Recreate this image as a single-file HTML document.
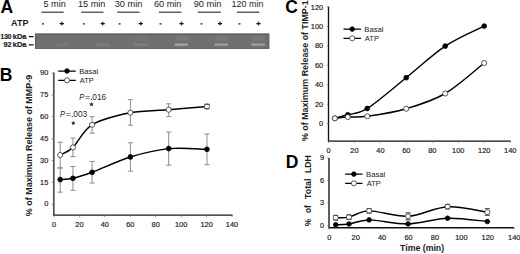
<!DOCTYPE html>
<html><head><meta charset="utf-8"><title>Figure</title>
<style>
html,body{margin:0;padding:0;background:#fff;width:520px;height:254px;overflow:hidden;}
svg{display:block;font-family:"Liberation Sans", sans-serif;}
</style></head>
<body>
<svg width="520" height="254" viewBox="0 0 520 254">
<rect width="520" height="254" fill="#fff"/>
<text x="0.45" y="12.95" font-size="17.50" text-anchor="start" font-weight="bold" font-style="normal" fill="#000" >A</text>
<text x="43.48" y="6.85" font-size="8.20" font-weight="normal" font-style="normal" fill="#1c1c1c" textLength="22.42" lengthAdjust="spacingAndGlyphs" xml:space="preserve">5 min</text>
<path d="M41.50,12.2H63.70" stroke="#2a2a2a" stroke-width="1.1"/>
<rect x="41.90" y="23.15" width="2.0" height="1.4" fill="#333"/>
<path d="M61.80,21.7V25.3M59.70,23.5H63.90" stroke="#111" stroke-width="1.25"/>
<text x="78.02" y="6.85" font-size="8.20" font-weight="normal" font-style="normal" fill="#1c1c1c" textLength="27.39" lengthAdjust="spacingAndGlyphs" xml:space="preserve">15 min</text>
<path d="M81.20,12.2H103.50" stroke="#2a2a2a" stroke-width="1.1"/>
<rect x="82.80" y="23.15" width="2.0" height="1.4" fill="#333"/>
<path d="M102.70,21.7V25.3M100.60,23.5H104.80" stroke="#111" stroke-width="1.25"/>
<text x="114.75" y="6.85" font-size="8.20" font-weight="normal" font-style="normal" fill="#1c1c1c" textLength="27.66" lengthAdjust="spacingAndGlyphs" xml:space="preserve">30 min</text>
<path d="M117.30,12.2H139.60" stroke="#2a2a2a" stroke-width="1.1"/>
<rect x="118.60" y="23.15" width="2.0" height="1.4" fill="#333"/>
<path d="M140.80,21.7V25.3M138.70,23.5H142.90" stroke="#111" stroke-width="1.25"/>
<text x="153.94" y="6.85" font-size="8.20" font-weight="normal" font-style="normal" fill="#1c1c1c" textLength="27.47" lengthAdjust="spacingAndGlyphs" xml:space="preserve">60 min</text>
<path d="M158.90,12.2H181.50" stroke="#2a2a2a" stroke-width="1.1"/>
<rect x="159.50" y="23.15" width="2.0" height="1.4" fill="#333"/>
<path d="M181.50,21.7V25.3M179.40,23.5H183.60" stroke="#111" stroke-width="1.25"/>
<text x="193.66" y="6.85" font-size="8.20" font-weight="normal" font-style="normal" fill="#1c1c1c" textLength="27.75" lengthAdjust="spacingAndGlyphs" xml:space="preserve">90 min</text>
<path d="M198.00,12.2H220.80" stroke="#2a2a2a" stroke-width="1.1"/>
<rect x="200.50" y="23.15" width="2.0" height="1.4" fill="#333"/>
<path d="M220.00,21.7V25.3M217.90,23.5H222.10" stroke="#111" stroke-width="1.25"/>
<text x="231.53" y="6.85" font-size="8.20" font-weight="normal" font-style="normal" fill="#1c1c1c" textLength="31.86" lengthAdjust="spacingAndGlyphs" xml:space="preserve">120 min</text>
<path d="M236.90,12.2H259.40" stroke="#2a2a2a" stroke-width="1.1"/>
<rect x="238.50" y="23.15" width="2.0" height="1.4" fill="#333"/>
<path d="M258.50,21.7V25.3M256.40,23.5H260.60" stroke="#111" stroke-width="1.25"/>
<text x="11.08" y="25.80" font-size="8.50" font-weight="bold" font-style="normal" fill="#1c1c1c" textLength="17.32" lengthAdjust="spacingAndGlyphs" xml:space="preserve">ATP</text>
<defs><filter id="bl" x="-20%" y="-100%" width="140%" height="300%"><feGaussianBlur stdDeviation="0.7"/></filter><filter id="bl2" x="-20%" y="-100%" width="140%" height="300%"><feGaussianBlur stdDeviation="1.2"/></filter></defs>
<rect x="35.0" y="33.4" width="234.4" height="15.5" fill="#575757"/>
<rect x="35.8" y="34.7" width="232.8" height="13.3" fill="#707070"/>
<rect x="55.25" y="43.5" width="13.5" height="2.3" fill="#c0c0c0" opacity="0.10" filter="url(#bl)"/>
<rect x="95.75" y="43.5" width="13.5" height="2.3" fill="#c0c0c0" opacity="0.18" filter="url(#bl)"/>
<rect x="133.75" y="43.5" width="13.5" height="2.3" fill="#c0c0c0" opacity="0.20" filter="url(#bl)"/>
<rect x="174.45" y="43.5" width="13.5" height="2.3" fill="#c0c0c0" opacity="0.64" filter="url(#bl)"/>
<rect x="214.65" y="43.5" width="13.5" height="2.3" fill="#c0c0c0" opacity="0.60" filter="url(#bl)"/>
<rect x="251.45" y="43.5" width="13.5" height="2.3" fill="#c0c0c0" opacity="0.60" filter="url(#bl)"/>
<rect x="176.00" y="36.0" width="13" height="4.0" fill="#bdbdbd" opacity="0.13" filter="url(#bl2)"/>
<rect x="215.00" y="36.0" width="13" height="4.0" fill="#bdbdbd" opacity="0.12" filter="url(#bl2)"/>
<rect x="252.00" y="36.0" width="13" height="4.0" fill="#bdbdbd" opacity="0.13" filter="url(#bl2)"/>
<rect x="134.50" y="36.0" width="13" height="4.0" fill="#bdbdbd" opacity="0.07" filter="url(#bl2)"/>
<text x="0.43" y="38.90" font-size="7.40" font-weight="bold" font-style="normal" fill="#1c1c1c" textLength="11.14" lengthAdjust="spacingAndGlyphs" xml:space="preserve" stroke="#1c1c1c" stroke-width="0.2">130</text>
<text x="12.78" y="38.90" font-size="7.40" font-weight="bold" font-style="normal" fill="#1c1c1c" textLength="13.68" lengthAdjust="spacingAndGlyphs" xml:space="preserve" stroke="#1c1c1c" stroke-width="0.2">kDa</text>
<text x="3.55" y="47.30" font-size="7.40" font-weight="bold" font-style="normal" fill="#1c1c1c" textLength="8.06" lengthAdjust="spacingAndGlyphs" xml:space="preserve" stroke="#1c1c1c" stroke-width="0.2">92</text>
<text x="12.78" y="47.30" font-size="7.40" font-weight="bold" font-style="normal" fill="#1c1c1c" textLength="13.68" lengthAdjust="spacingAndGlyphs" xml:space="preserve" stroke="#1c1c1c" stroke-width="0.2">kDa</text>
<path d="M28.8,36.6H33.6M28.8,44.8H33.6" stroke="#111" stroke-width="1.3"/>
<text x="-0.20" y="80.50" font-size="17.50" text-anchor="start" font-weight="bold" font-style="normal" fill="#000" >B</text>
<path d="M53.8,72.5V215.0" stroke="#505050" stroke-width="1.7" fill="none"/>
<path d="M53.0,215.15H232.6" stroke="#1a1a1a" stroke-width="1.3" fill="none"/>
<text x="48.25" y="206.49" font-size="7.40" text-anchor="end" font-weight="normal" font-style="normal" fill="#1c1c1c" stroke="#1c1c1c" stroke-width="0.18">0</text>
<text x="48.25" y="184.65" font-size="7.40" text-anchor="end" font-weight="normal" font-style="normal" fill="#1c1c1c" stroke="#1c1c1c" stroke-width="0.18">15</text>
<text x="48.25" y="162.81" font-size="7.40" text-anchor="end" font-weight="normal" font-style="normal" fill="#1c1c1c" stroke="#1c1c1c" stroke-width="0.18">30</text>
<text x="48.25" y="140.97" font-size="7.40" text-anchor="end" font-weight="normal" font-style="normal" fill="#1c1c1c" stroke="#1c1c1c" stroke-width="0.18">45</text>
<text x="48.25" y="119.12" font-size="7.40" text-anchor="end" font-weight="normal" font-style="normal" fill="#1c1c1c" stroke="#1c1c1c" stroke-width="0.18">60</text>
<text x="48.25" y="97.28" font-size="7.40" text-anchor="end" font-weight="normal" font-style="normal" fill="#1c1c1c" stroke="#1c1c1c" stroke-width="0.18">75</text>
<text x="48.25" y="75.44" font-size="7.40" text-anchor="end" font-weight="normal" font-style="normal" fill="#1c1c1c" stroke="#1c1c1c" stroke-width="0.18">90</text>
<path d="M51.6,204.20H53.8" stroke="#666" stroke-width="0.7"/>
<path d="M51.6,182.36H53.8" stroke="#666" stroke-width="0.7"/>
<path d="M51.6,160.52H53.8" stroke="#666" stroke-width="0.7"/>
<path d="M51.6,138.68H53.8" stroke="#666" stroke-width="0.7"/>
<path d="M51.6,116.83H53.8" stroke="#666" stroke-width="0.7"/>
<path d="M51.6,94.99H53.8" stroke="#666" stroke-width="0.7"/>
<path d="M51.6,73.15H53.8" stroke="#666" stroke-width="0.7"/>
<text x="53.95" y="227.49" font-size="7.40" text-anchor="middle" font-weight="normal" font-style="normal" fill="#1c1c1c" stroke="#1c1c1c" stroke-width="0.18">0</text>
<text x="79.39" y="227.49" font-size="7.40" text-anchor="middle" font-weight="normal" font-style="normal" fill="#1c1c1c" stroke="#1c1c1c" stroke-width="0.18">20</text>
<text x="104.83" y="227.49" font-size="7.40" text-anchor="middle" font-weight="normal" font-style="normal" fill="#1c1c1c" stroke="#1c1c1c" stroke-width="0.18">40</text>
<text x="130.28" y="227.49" font-size="7.40" text-anchor="middle" font-weight="normal" font-style="normal" fill="#1c1c1c" stroke="#1c1c1c" stroke-width="0.18">60</text>
<text x="155.72" y="227.49" font-size="7.40" text-anchor="middle" font-weight="normal" font-style="normal" fill="#1c1c1c" stroke="#1c1c1c" stroke-width="0.18">80</text>
<text x="181.16" y="227.49" font-size="7.40" text-anchor="middle" font-weight="normal" font-style="normal" fill="#1c1c1c" stroke="#1c1c1c" stroke-width="0.18">100</text>
<text x="206.60" y="227.49" font-size="7.40" text-anchor="middle" font-weight="normal" font-style="normal" fill="#1c1c1c" stroke="#1c1c1c" stroke-width="0.18">120</text>
<text x="232.04" y="227.49" font-size="7.40" text-anchor="middle" font-weight="normal" font-style="normal" fill="#1c1c1c" stroke="#1c1c1c" stroke-width="0.18">140</text>
<path d="M53.95,215V217.4" stroke="#777" stroke-width="0.7"/>
<path d="M79.39,215V217.4" stroke="#777" stroke-width="0.7"/>
<path d="M104.83,215V217.4" stroke="#777" stroke-width="0.7"/>
<path d="M130.28,215V217.4" stroke="#777" stroke-width="0.7"/>
<path d="M155.72,215V217.4" stroke="#777" stroke-width="0.7"/>
<path d="M181.16,215V217.4" stroke="#777" stroke-width="0.7"/>
<path d="M206.60,215V217.4" stroke="#777" stroke-width="0.7"/>
<path d="M232.04,215V217.4" stroke="#777" stroke-width="0.7"/>
<text transform="rotate(-90)" x="-216.22" y="31.50" font-size="9.00" font-weight="bold" fill="#1c1c1c" textLength="141.45" lengthAdjust="spacingAndGlyphs" xml:space="preserve">% of Maximum Release of MMP-9</text>
<path d="M60.18,168.00V192.20M57.58,168.00H62.78M57.58,192.20H62.78" stroke="#808080" stroke-width="0.9" fill="none"/>
<path d="M60.18,142.20V167.90M57.58,142.20H62.78M57.58,167.90H62.78" stroke="#808080" stroke-width="0.9" fill="none"/>
<path d="M72.95,166.50V190.30M70.35,166.50H75.55M70.35,190.30H75.55" stroke="#808080" stroke-width="0.9" fill="none"/>
<path d="M72.95,138.10V156.60M70.35,138.10H75.55M70.35,156.60H75.55" stroke="#808080" stroke-width="0.9" fill="none"/>
<path d="M92.09,161.40V183.00M89.49,161.40H94.69M89.49,183.00H94.69" stroke="#808080" stroke-width="0.9" fill="none"/>
<path d="M92.09,116.70V133.20M89.49,116.70H94.69M89.49,133.20H94.69" stroke="#808080" stroke-width="0.9" fill="none"/>
<path d="M130.38,142.80V171.20M127.78,142.80H132.98M127.78,171.20H132.98" stroke="#808080" stroke-width="0.9" fill="none"/>
<path d="M130.38,99.70V125.20M127.78,99.70H132.98M127.78,125.20H132.98" stroke="#808080" stroke-width="0.9" fill="none"/>
<path d="M168.68,132.10V165.20M166.08,132.10H171.28M166.08,165.20H171.28" stroke="#808080" stroke-width="0.9" fill="none"/>
<path d="M168.68,103.80V116.60M166.08,103.80H171.28M166.08,116.60H171.28" stroke="#808080" stroke-width="0.9" fill="none"/>
<path d="M206.97,134.00V164.70M204.37,134.00H209.57M204.37,164.70H209.57" stroke="#808080" stroke-width="0.9" fill="none"/>
<path d="M206.97,104.30V108.70M204.37,104.30H209.57M204.37,108.70H209.57" stroke="#808080" stroke-width="0.9" fill="none"/>
<path d="M60.18,179.60 C62.31,179.38 67.63,179.52 72.95,178.30 C78.26,177.08 82.52,175.85 92.09,172.30 C101.67,168.75 117.62,160.95 130.38,157.00 C143.15,153.05 155.91,149.88 168.68,148.60 C181.44,147.32 200.59,149.18 206.97,149.30" stroke="#000" stroke-width="1.45" fill="none"/>
<path d="M60.18,155.00 C62.31,153.73 67.63,152.43 72.95,147.40 C78.26,142.37 82.52,130.57 92.09,124.80 C101.67,119.02 117.62,115.27 130.38,112.75 C143.15,110.23 155.91,110.74 168.68,109.70 C181.44,108.66 200.59,107.03 206.97,106.50" stroke="#000" stroke-width="1.45" fill="none"/>
<circle cx="60.18" cy="179.60" r="2.40" fill="#000" stroke="#000" stroke-width="0.8"/>
<circle cx="60.18" cy="155.00" r="2.55" fill="#fff" stroke="#262626" stroke-width="0.75"/>
<circle cx="72.95" cy="178.30" r="2.40" fill="#000" stroke="#000" stroke-width="0.8"/>
<circle cx="72.95" cy="147.40" r="2.55" fill="#fff" stroke="#262626" stroke-width="0.75"/>
<circle cx="92.09" cy="172.30" r="2.40" fill="#000" stroke="#000" stroke-width="0.8"/>
<circle cx="92.09" cy="124.80" r="2.55" fill="#fff" stroke="#262626" stroke-width="0.75"/>
<circle cx="130.38" cy="157.00" r="2.40" fill="#000" stroke="#000" stroke-width="0.8"/>
<circle cx="130.38" cy="112.75" r="2.55" fill="#fff" stroke="#262626" stroke-width="0.75"/>
<circle cx="168.68" cy="148.60" r="2.40" fill="#000" stroke="#000" stroke-width="0.8"/>
<circle cx="168.68" cy="109.70" r="2.55" fill="#fff" stroke="#262626" stroke-width="0.75"/>
<circle cx="206.97" cy="149.30" r="2.40" fill="#000" stroke="#000" stroke-width="0.8"/>
<circle cx="206.97" cy="106.50" r="2.55" fill="#fff" stroke="#262626" stroke-width="0.75"/>
<path d="M204.37,104.30H209.57M204.37,108.70H209.57" stroke="#555" stroke-width="0.9" fill="none"/>
<path d="M58.20,71.00H75.80M58.20,80.30H75.80" stroke="#000" stroke-width="1.25"/>
<circle cx="67.00" cy="71.00" r="2.30" fill="#000" stroke="#000" stroke-width="0.8"/>
<circle cx="67.00" cy="80.30" r="2.55" fill="#fff" stroke="#262626" stroke-width="0.75"/>
<text x="79.27" y="73.60" font-size="7.30" font-weight="normal" font-style="normal" fill="#1c1c1c" textLength="19.03" lengthAdjust="spacingAndGlyphs" xml:space="preserve">Basal</text>
<text x="79.88" y="83.00" font-size="7.30" font-weight="normal" font-style="normal" fill="#1c1c1c" textLength="13.81" lengthAdjust="spacingAndGlyphs" xml:space="preserve">ATP</text>
<text x="59.88" y="117.20" font-size="8.20" font-weight="normal" font-style="italic" fill="#1c1c1c" textLength="4.98" lengthAdjust="spacingAndGlyphs" xml:space="preserve">P</text>
<text x="65.75" y="117.20" font-size="8.20" font-weight="normal" font-style="normal" fill="#1c1c1c" textLength="5.30" lengthAdjust="spacingAndGlyphs" xml:space="preserve">=</text>
<rect x="71.75" y="115.95" width="1.0" height="1.1" fill="#1c1c1c"/>
<text x="73.37" y="117.20" font-size="8.20" font-weight="normal" font-style="normal" fill="#1c1c1c" textLength="13.79" lengthAdjust="spacingAndGlyphs" xml:space="preserve">003</text>
<text x="79.18" y="100.20" font-size="8.20" font-weight="normal" font-style="italic" fill="#1c1c1c" textLength="4.98" lengthAdjust="spacingAndGlyphs" xml:space="preserve">P</text>
<text x="85.05" y="100.20" font-size="8.20" font-weight="normal" font-style="normal" fill="#1c1c1c" textLength="5.30" lengthAdjust="spacingAndGlyphs" xml:space="preserve">=</text>
<rect x="91.05" y="98.95" width="1.0" height="1.1" fill="#1c1c1c"/>
<text x="92.37" y="100.20" font-size="8.20" font-weight="normal" font-style="normal" fill="#1c1c1c" textLength="13.79" lengthAdjust="spacingAndGlyphs" xml:space="preserve">016</text>
<polygon points="73.30,120.80 73.91,122.26 75.49,122.39 74.28,123.42 74.65,124.96 73.30,124.13 71.95,124.96 72.32,123.42 71.11,122.39 72.69,122.26" fill="#222"/>
<polygon points="91.50,101.90 92.13,103.43 93.78,103.56 92.53,104.63 92.91,106.24 91.50,105.38 90.09,106.24 90.47,104.63 89.22,103.56 90.87,103.43" fill="#222"/>
<text x="285.20" y="13.10" font-size="17.50" text-anchor="start" font-weight="bold" font-style="normal" fill="#000" >C</text>
<path d="M328.5,6.6V141.1H510.8" stroke="#111" stroke-width="1.35" fill="none"/>
<text x="323.15" y="126.19" font-size="7.40" text-anchor="end" font-weight="normal" font-style="normal" fill="#1c1c1c" stroke="#1c1c1c" stroke-width="0.18">0</text>
<text x="323.15" y="106.76" font-size="7.40" text-anchor="end" font-weight="normal" font-style="normal" fill="#1c1c1c" stroke="#1c1c1c" stroke-width="0.18">20</text>
<text x="323.15" y="87.34" font-size="7.40" text-anchor="end" font-weight="normal" font-style="normal" fill="#1c1c1c" stroke="#1c1c1c" stroke-width="0.18">40</text>
<text x="323.15" y="67.91" font-size="7.40" text-anchor="end" font-weight="normal" font-style="normal" fill="#1c1c1c" stroke="#1c1c1c" stroke-width="0.18">60</text>
<text x="323.15" y="48.49" font-size="7.40" text-anchor="end" font-weight="normal" font-style="normal" fill="#1c1c1c" stroke="#1c1c1c" stroke-width="0.18">80</text>
<text x="323.15" y="29.06" font-size="7.40" text-anchor="end" font-weight="normal" font-style="normal" fill="#1c1c1c" stroke="#1c1c1c" stroke-width="0.18">100</text>
<text x="323.15" y="9.63" font-size="7.40" text-anchor="end" font-weight="normal" font-style="normal" fill="#1c1c1c" stroke="#1c1c1c" stroke-width="0.18">120</text>
<path d="M326.6,123.60H328.5" stroke="#777" stroke-width="0.7"/>
<path d="M326.6,104.17H328.5" stroke="#777" stroke-width="0.7"/>
<path d="M326.6,84.75H328.5" stroke="#777" stroke-width="0.7"/>
<path d="M326.6,65.32H328.5" stroke="#777" stroke-width="0.7"/>
<path d="M326.6,45.90H328.5" stroke="#777" stroke-width="0.7"/>
<path d="M326.6,26.47H328.5" stroke="#777" stroke-width="0.7"/>
<path d="M326.6,7.04H328.5" stroke="#777" stroke-width="0.7"/>
<text x="328.50" y="153.49" font-size="7.40" text-anchor="middle" font-weight="normal" font-style="normal" fill="#1c1c1c" stroke="#1c1c1c" stroke-width="0.18">0</text>
<text x="354.46" y="153.49" font-size="7.40" text-anchor="middle" font-weight="normal" font-style="normal" fill="#1c1c1c" stroke="#1c1c1c" stroke-width="0.18">20</text>
<text x="380.42" y="153.49" font-size="7.40" text-anchor="middle" font-weight="normal" font-style="normal" fill="#1c1c1c" stroke="#1c1c1c" stroke-width="0.18">40</text>
<text x="406.37" y="153.49" font-size="7.40" text-anchor="middle" font-weight="normal" font-style="normal" fill="#1c1c1c" stroke="#1c1c1c" stroke-width="0.18">60</text>
<text x="432.33" y="153.49" font-size="7.40" text-anchor="middle" font-weight="normal" font-style="normal" fill="#1c1c1c" stroke="#1c1c1c" stroke-width="0.18">80</text>
<text x="458.29" y="153.49" font-size="7.40" text-anchor="middle" font-weight="normal" font-style="normal" fill="#1c1c1c" stroke="#1c1c1c" stroke-width="0.18">100</text>
<text x="484.25" y="153.49" font-size="7.40" text-anchor="middle" font-weight="normal" font-style="normal" fill="#1c1c1c" stroke="#1c1c1c" stroke-width="0.18">120</text>
<text x="510.21" y="153.49" font-size="7.40" text-anchor="middle" font-weight="normal" font-style="normal" fill="#1c1c1c" stroke="#1c1c1c" stroke-width="0.18">140</text>
<path d="M328.50,141.1V143.0" stroke="#777" stroke-width="0.7"/>
<path d="M354.46,141.1V143.0" stroke="#777" stroke-width="0.7"/>
<path d="M380.42,141.1V143.0" stroke="#777" stroke-width="0.7"/>
<path d="M406.37,141.1V143.0" stroke="#777" stroke-width="0.7"/>
<path d="M432.33,141.1V143.0" stroke="#777" stroke-width="0.7"/>
<path d="M458.29,141.1V143.0" stroke="#777" stroke-width="0.7"/>
<path d="M484.25,141.1V143.0" stroke="#777" stroke-width="0.7"/>
<path d="M510.21,141.1V143.0" stroke="#777" stroke-width="0.7"/>
<text transform="rotate(-90)" x="-141.02" y="308.30" font-size="9.00" font-weight="bold" fill="#1c1c1c" textLength="140.69" lengthAdjust="spacingAndGlyphs" xml:space="preserve">% of Maximum Release of TIMP-1</text>
<path d="M334.80,118.30 C336.96,117.72 342.37,116.43 347.79,114.80 C353.20,113.17 357.53,114.68 367.27,108.50 C377.01,102.32 393.25,88.10 406.24,77.70 C419.23,67.30 432.22,54.70 445.21,46.10 C458.20,37.50 477.69,29.43 484.18,26.10" stroke="#000" stroke-width="1.45" fill="none"/>
<path d="M334.80,118.30 C336.96,118.10 342.37,117.43 347.79,117.10 C353.20,116.77 357.53,117.70 367.27,116.30 C377.01,114.90 393.25,112.50 406.24,108.70 C419.23,104.90 432.22,101.12 445.21,93.50 C458.20,85.88 477.69,68.08 484.18,63.00" stroke="#000" stroke-width="1.45" fill="none"/>
<circle cx="334.80" cy="118.30" r="2.40" fill="#000" stroke="#000" stroke-width="0.8"/>
<circle cx="347.79" cy="114.80" r="2.40" fill="#000" stroke="#000" stroke-width="0.8"/>
<circle cx="367.27" cy="108.50" r="2.40" fill="#000" stroke="#000" stroke-width="0.8"/>
<circle cx="406.24" cy="77.70" r="2.40" fill="#000" stroke="#000" stroke-width="0.8"/>
<circle cx="445.21" cy="46.10" r="2.40" fill="#000" stroke="#000" stroke-width="0.8"/>
<circle cx="484.18" cy="26.10" r="2.40" fill="#000" stroke="#000" stroke-width="0.8"/>
<circle cx="334.80" cy="118.30" r="2.55" fill="#fff" stroke="#262626" stroke-width="0.75"/>
<circle cx="347.79" cy="117.10" r="2.55" fill="#fff" stroke="#262626" stroke-width="0.75"/>
<circle cx="367.27" cy="116.30" r="2.55" fill="#fff" stroke="#262626" stroke-width="0.75"/>
<circle cx="406.24" cy="108.70" r="2.55" fill="#fff" stroke="#262626" stroke-width="0.75"/>
<circle cx="445.21" cy="93.50" r="2.55" fill="#fff" stroke="#262626" stroke-width="0.75"/>
<circle cx="484.18" cy="63.00" r="2.55" fill="#fff" stroke="#262626" stroke-width="0.75"/>
<path d="M343.50,29.10H361.00M343.50,38.30H361.00" stroke="#000" stroke-width="1.25"/>
<circle cx="352.20" cy="29.10" r="2.30" fill="#000" stroke="#000" stroke-width="0.8"/>
<circle cx="352.20" cy="38.30" r="2.55" fill="#fff" stroke="#262626" stroke-width="0.75"/>
<text x="364.27" y="31.90" font-size="7.30" font-weight="normal" font-style="normal" fill="#1c1c1c" textLength="19.25" lengthAdjust="spacingAndGlyphs" xml:space="preserve">Basal</text>
<text x="364.88" y="41.00" font-size="7.30" font-weight="normal" font-style="normal" fill="#1c1c1c" textLength="14.12" lengthAdjust="spacingAndGlyphs" xml:space="preserve">ATP</text>
<text x="285.80" y="167.90" font-size="17.50" text-anchor="start" font-weight="bold" font-style="normal" fill="#000" >D</text>
<path d="M329.0,157.9V227.7H514.0" stroke="#111" stroke-width="1.35" fill="none"/>
<text x="324.15" y="227.79" font-size="7.40" text-anchor="end" font-weight="normal" font-style="normal" fill="#1c1c1c" stroke="#1c1c1c" stroke-width="0.18">0</text>
<text x="324.15" y="205.36" font-size="7.40" text-anchor="end" font-weight="normal" font-style="normal" fill="#1c1c1c" stroke="#1c1c1c" stroke-width="0.18">3</text>
<text x="324.15" y="182.92" font-size="7.40" text-anchor="end" font-weight="normal" font-style="normal" fill="#1c1c1c" stroke="#1c1c1c" stroke-width="0.18">6</text>
<text x="324.15" y="160.49" font-size="7.40" text-anchor="end" font-weight="normal" font-style="normal" fill="#1c1c1c" stroke="#1c1c1c" stroke-width="0.18">9</text>
<path d="M327.1,225.20H329.0" stroke="#777" stroke-width="0.7"/>
<path d="M327.1,202.77H329.0" stroke="#777" stroke-width="0.7"/>
<path d="M327.1,180.33H329.0" stroke="#777" stroke-width="0.7"/>
<path d="M327.1,157.90H329.0" stroke="#777" stroke-width="0.7"/>
<text x="329.30" y="239.79" font-size="7.40" text-anchor="middle" font-weight="normal" font-style="normal" fill="#1c1c1c" stroke="#1c1c1c" stroke-width="0.18">0</text>
<text x="355.71" y="239.79" font-size="7.40" text-anchor="middle" font-weight="normal" font-style="normal" fill="#1c1c1c" stroke="#1c1c1c" stroke-width="0.18">20</text>
<text x="382.13" y="239.79" font-size="7.40" text-anchor="middle" font-weight="normal" font-style="normal" fill="#1c1c1c" stroke="#1c1c1c" stroke-width="0.18">40</text>
<text x="408.54" y="239.79" font-size="7.40" text-anchor="middle" font-weight="normal" font-style="normal" fill="#1c1c1c" stroke="#1c1c1c" stroke-width="0.18">60</text>
<text x="434.96" y="239.79" font-size="7.40" text-anchor="middle" font-weight="normal" font-style="normal" fill="#1c1c1c" stroke="#1c1c1c" stroke-width="0.18">80</text>
<text x="461.37" y="239.79" font-size="7.40" text-anchor="middle" font-weight="normal" font-style="normal" fill="#1c1c1c" stroke="#1c1c1c" stroke-width="0.18">100</text>
<text x="487.78" y="239.79" font-size="7.40" text-anchor="middle" font-weight="normal" font-style="normal" fill="#1c1c1c" stroke="#1c1c1c" stroke-width="0.18">120</text>
<text x="514.20" y="239.79" font-size="7.40" text-anchor="middle" font-weight="normal" font-style="normal" fill="#1c1c1c" stroke="#1c1c1c" stroke-width="0.18">140</text>
<path d="M329.30,227.7V229.5" stroke="#777" stroke-width="0.7"/>
<path d="M355.71,227.7V229.5" stroke="#777" stroke-width="0.7"/>
<path d="M382.13,227.7V229.5" stroke="#777" stroke-width="0.7"/>
<path d="M408.54,227.7V229.5" stroke="#777" stroke-width="0.7"/>
<path d="M434.96,227.7V229.5" stroke="#777" stroke-width="0.7"/>
<path d="M461.37,227.7V229.5" stroke="#777" stroke-width="0.7"/>
<path d="M487.78,227.7V229.5" stroke="#777" stroke-width="0.7"/>
<path d="M514.20,227.7V229.5" stroke="#777" stroke-width="0.7"/>
<text transform="rotate(-90)" x="-173.08" y="310.90" font-size="9.00" font-weight="bold" fill="#1c1c1c" textLength="17.77" lengthAdjust="spacingAndGlyphs" xml:space="preserve">LDH</text>
<text transform="rotate(-90)" x="-198.99" y="310.90" font-size="9.00" font-weight="bold" fill="#1c1c1c" textLength="20.50" lengthAdjust="spacingAndGlyphs" xml:space="preserve">Total</text>
<text transform="rotate(-90)" x="-213.03" y="310.90" font-size="9.00" font-weight="bold" fill="#1c1c1c" textLength="7.82" lengthAdjust="spacingAndGlyphs" xml:space="preserve">of</text>
<text transform="rotate(-90)" x="-226.21" y="310.90" font-size="9.00" font-weight="bold" fill="#1c1c1c" textLength="7.33" lengthAdjust="spacingAndGlyphs" xml:space="preserve">%</text>
<text x="400.01" y="251.30" font-size="8.30" font-weight="bold" font-style="normal" fill="#1c1c1c" textLength="44.13" lengthAdjust="spacingAndGlyphs" xml:space="preserve">Time (min)</text>
<path d="M335.70,215.40V220.10M333.30,215.40H338.10M333.30,220.10H338.10" stroke="#808080" stroke-width="0.9" fill="none"/>
<path d="M349.00,215.00V219.40M346.60,215.00H351.40M346.60,219.40H351.40" stroke="#808080" stroke-width="0.9" fill="none"/>
<path d="M369.10,208.50V213.20M366.70,208.50H371.50M366.70,213.20H371.50" stroke="#808080" stroke-width="0.9" fill="none"/>
<path d="M408.10,212.90V219.80M405.70,212.90H410.50M405.70,219.80H410.50" stroke="#808080" stroke-width="0.9" fill="none"/>
<path d="M447.60,204.40V208.80M445.20,204.40H450.00M445.20,208.80H450.00" stroke="#808080" stroke-width="0.9" fill="none"/>
<path d="M487.30,208.50V215.40M484.90,208.50H489.70M484.90,215.40H489.70" stroke="#808080" stroke-width="0.9" fill="none"/>
<path d="M335.70,224.80 C337.92,224.67 343.43,224.82 349.00,224.00 C354.57,223.18 359.25,219.92 369.10,219.90 C378.95,219.88 395.02,224.18 408.10,223.90 C421.18,223.62 434.40,218.60 447.60,218.20 C460.80,217.80 480.68,220.95 487.30,221.50" stroke="#000" stroke-width="1.45" fill="none"/>
<path d="M335.70,217.70 C337.92,217.60 343.43,218.23 349.00,217.10 C354.57,215.97 359.25,211.03 369.10,210.90 C378.95,210.77 395.02,217.00 408.10,216.30 C421.18,215.60 434.40,207.38 447.60,206.70 C460.80,206.02 480.68,211.28 487.30,212.20" stroke="#000" stroke-width="1.45" fill="none"/>
<circle cx="335.70" cy="224.80" r="2.30" fill="#000" stroke="#000" stroke-width="0.8"/>
<circle cx="335.70" cy="217.70" r="2.55" fill="#fff" stroke="#262626" stroke-width="0.75"/>
<circle cx="349.00" cy="224.00" r="2.30" fill="#000" stroke="#000" stroke-width="0.8"/>
<circle cx="349.00" cy="217.10" r="2.55" fill="#fff" stroke="#262626" stroke-width="0.75"/>
<circle cx="369.10" cy="219.90" r="2.30" fill="#000" stroke="#000" stroke-width="0.8"/>
<circle cx="369.10" cy="210.90" r="2.55" fill="#fff" stroke="#262626" stroke-width="0.75"/>
<circle cx="408.10" cy="223.90" r="2.30" fill="#000" stroke="#000" stroke-width="0.8"/>
<circle cx="408.10" cy="216.30" r="2.55" fill="#fff" stroke="#262626" stroke-width="0.75"/>
<circle cx="447.60" cy="218.20" r="2.30" fill="#000" stroke="#000" stroke-width="0.8"/>
<circle cx="447.60" cy="206.70" r="2.55" fill="#fff" stroke="#262626" stroke-width="0.75"/>
<circle cx="487.30" cy="221.50" r="2.30" fill="#000" stroke="#000" stroke-width="0.8"/>
<circle cx="487.30" cy="212.20" r="2.55" fill="#fff" stroke="#262626" stroke-width="0.75"/>
<path d="M333.20,215.40H338.20M333.20,220.10H338.20" stroke="#555" stroke-width="0.9" fill="none"/>
<path d="M346.50,215.00H351.50M346.50,219.40H351.50" stroke="#555" stroke-width="0.9" fill="none"/>
<path d="M366.60,208.50H371.60M366.60,213.20H371.60" stroke="#555" stroke-width="0.9" fill="none"/>
<path d="M405.60,212.90H410.60M405.60,219.80H410.60" stroke="#555" stroke-width="0.9" fill="none"/>
<path d="M445.10,204.40H450.10M445.10,208.80H450.10" stroke="#555" stroke-width="0.9" fill="none"/>
<path d="M484.80,208.50H489.80M484.80,215.40H489.80" stroke="#555" stroke-width="0.9" fill="none"/>
<path d="M345.10,174.10H362.50M345.10,183.30H362.50" stroke="#000" stroke-width="1.25"/>
<circle cx="353.90" cy="174.10" r="2.30" fill="#000" stroke="#000" stroke-width="0.8"/>
<circle cx="353.90" cy="183.30" r="2.55" fill="#fff" stroke="#262626" stroke-width="0.75"/>
<text x="366.07" y="176.90" font-size="7.30" font-weight="normal" font-style="normal" fill="#1c1c1c" textLength="19.25" lengthAdjust="spacingAndGlyphs" xml:space="preserve">Basal</text>
<text x="366.68" y="186.00" font-size="7.30" font-weight="normal" font-style="normal" fill="#1c1c1c" textLength="14.12" lengthAdjust="spacingAndGlyphs" xml:space="preserve">ATP</text>
</svg>
</body></html>
